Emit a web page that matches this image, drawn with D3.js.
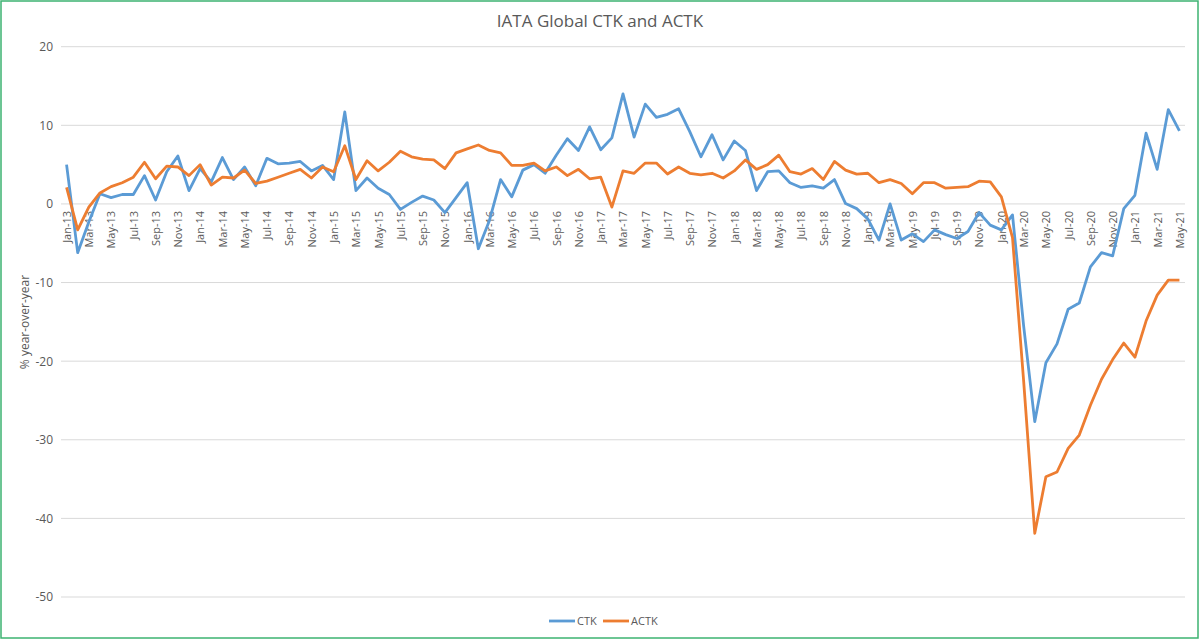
<!DOCTYPE html>
<html>
<head>
<meta charset="utf-8">
<script src="https://cdn.jsdelivr.net/npm/d3@7"></script>
<style>
  body { margin: 0; background: #fff; }
  svg { display: block; font-family: "Open Sans", "Liberation Sans", sans-serif; }
</style>
</head>
<body>
<svg id="chart" width="1200" height="640"></svg>
<script>
// monthly categories Jan-13 .. May-21
const months = d3.timeMonths(new Date(2013, 0, 1), new Date(2021, 5, 1)).map(d3.timeFormat("%b-%y"));

// % year-over-year
const ctk = [
  5.0, -6.2, -2.3, 1.3, 0.8, 1.2, 1.2, 3.6, 0.5, 4.1, 6.1, 1.7,
  4.5, 2.8, 5.9, 3.1, 4.7, 2.3, 5.8, 5.1, 5.2, 5.4, 4.2, 4.9,
  3.1, 11.7, 1.7, 3.3, 2.0, 1.2, -0.7, 0.2, 1.0, 0.5, -1.1, 0.8,
  2.7, -5.7, -2.1, 3.1, 0.9, 4.3, 5.0, 3.9, 6.2, 8.3, 6.8, 9.8,
  6.9, 8.4, 14.0, 8.5, 12.7, 11.0, 11.4, 12.1, 9.2, 6.0, 8.8, 5.6,
  8.0, 6.8, 1.7, 4.1, 4.2, 2.7, 2.1, 2.3, 2.0, 3.1, 0.05, -0.6,
  -1.9, -4.6, 0.0, -4.6, -3.8, -4.8, -3.3, -3.9, -4.4, -3.5, -1.1, -2.7,
  -3.3, -1.4, -15.5, -27.7, -20.2, -17.8, -13.4, -12.6, -8.0, -6.2, -6.6, -0.6,
  1.1, 9.0, 4.4, 12.0, 9.3
];
const actk = [
  2.1, -3.3, -0.4, 1.4, 2.2, 2.7, 3.4, 5.3, 3.2, 4.8, 4.7, 3.6,
  5.0, 2.4, 3.4, 3.3, 4.3, 2.6, 2.9, 3.4, 3.9, 4.4, 3.3, 4.7,
  4.1, 7.4, 3.1, 5.5, 4.2, 5.3, 6.7, 6.0, 5.7, 5.6, 4.5, 6.5,
  7.0, 7.5, 6.8, 6.5, 4.9, 4.9, 5.2, 4.2, 4.7, 3.6, 4.4, 3.2,
  3.4, -0.4, 4.2, 3.9, 5.2, 5.2, 3.8, 4.7, 3.9, 3.7, 3.9, 3.3,
  4.2, 5.6, 4.4, 5.0, 6.2, 4.1, 3.8, 4.5, 3.1, 5.4, 4.3, 3.8,
  3.9, 2.7, 3.1, 2.6, 1.3, 2.7, 2.7, 2.0, 2.1, 2.2, 2.9, 2.8,
  0.9, -4.3, -22.5, -41.9, -34.7, -34.1, -31.1, -29.4, -25.6, -22.3, -19.8, -17.7,
  -19.5, -14.9, -11.6, -9.7, -9.7
];
const yTicks = [20, 10, 0, -10, -20, -30, -40, -50];
const seriesNames = ["CTK", "ACTK"];
const seriesColors = ["#5B9BD5", "#ED7D31"];

const svg = d3.select("#chart");
const textCol = "#595959";

// green frame round the picture
svg.append("rect")
  .attr("x", 1).attr("y", 1).attr("width", 1197).attr("height", 637)
  .attr("fill", "#fff").attr("stroke", "#3CB371").attr("stroke-width", 1.5);

const x = d3.scalePoint().domain(months).range([61, 1185]).padding(0.5);
const y = d3.scaleLinear().domain([-50, 20]).range([597, 46.7]);

// gridlines
svg.append("g")
  .selectAll("line")
  .data(yTicks)
  .join("line")
  .attr("x1", 61).attr("x2", 1185)
  .attr("y1", d => y(d)).attr("y2", d => y(d))
  .attr("stroke", "#d9d9d9").attr("stroke-width", 1);

// y axis labels (plain hyphen like the original)
const yAxis = svg.append("g")
  .attr("transform", "translate(53,0)")
  .call(d3.axisLeft(y).tickValues(yTicks).tickFormat(d => String(d)).tickSize(0).tickPadding(0));
yAxis.select(".domain").remove();
yAxis.selectAll("text")
  .attr("fill", textCol)
  .style("font-size", "12px")
  .style("font-family", "'Open Sans', sans-serif");

// x axis labels, every second month, hanging below the zero line
const xAxis = svg.append("g")
  .attr("transform", "translate(0," + y(0) + ")")
  .call(d3.axisBottom(x).tickValues(months.filter((d, i) => i % 2 === 0)).tickSize(0));
xAxis.select(".domain").remove();
xAxis.selectAll("text")
  .attr("fill", textCol)
  .style("font-size", "11px")
  .style("font-family", "'Open Sans', sans-serif")
  .attr("text-anchor", "end")
  .attr("transform", "rotate(-90)")
  .attr("x", -7)
  .attr("y", 0)
  .attr("dy", "0.35em");

// lines
const line = d3.line()
  .x((d, i) => x(months[i]))
  .y(d => y(d));

[ctk, actk].forEach((s, k) => {
  svg.append("path")
    .datum(s)
    .attr("fill", "none")
    .attr("stroke", seriesColors[k])
    .attr("stroke-width", 2.8)
    .attr("stroke-linejoin", "round")
    .attr("d", line);
});

// title
svg.append("text")
  .attr("x", 600).attr("y", 27)
  .attr("text-anchor", "middle")
  .attr("fill", textCol)
  .style("font-size", "17px")
  .text("IATA Global CTK and ACTK");

// y axis title
svg.append("text")
  .attr("transform", "translate(29,322) rotate(-90)")
  .attr("text-anchor", "middle")
  .attr("fill", textCol)
  .style("font-size", "12px")
  .text("% year-over-year");

// legend
const legendX = [549, 603];
seriesNames.forEach((name, k) => {
  const g = svg.append("g").attr("transform", "translate(" + legendX[k] + ",621)");
  g.append("line")
    .attr("x1", 0).attr("x2", 26).attr("y1", 0).attr("y2", 0)
    .attr("stroke", seriesColors[k]).attr("stroke-width", 2.8);
  g.append("text")
    .attr("x", 28).attr("y", 0).attr("dy", "0.35em")
    .attr("fill", textCol)
    .style("font-size", "11px")
    .text(name);
});
</script>
</body>
</html>
